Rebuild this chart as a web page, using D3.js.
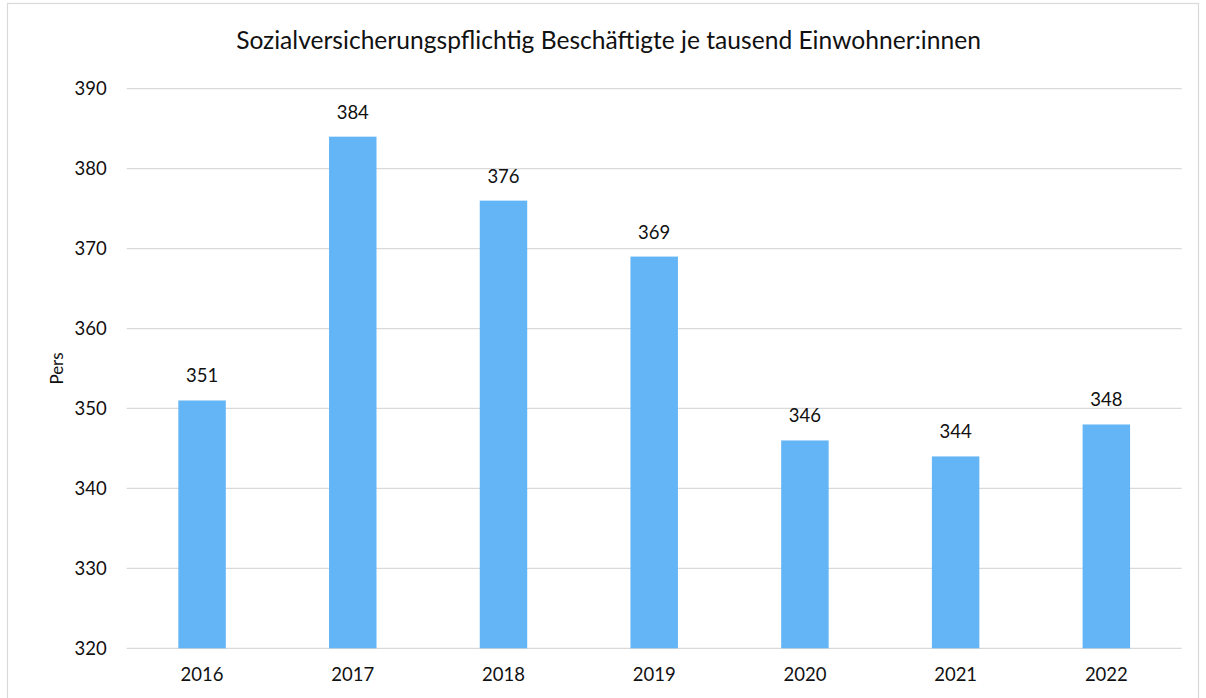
<!DOCTYPE html>
<html>
<head>
<meta charset="utf-8">
<script src="https://cdn.jsdelivr.net/npm/d3@7"></script>
<style>
  html, body { margin: 0; padding: 0; background: #fff; }
  svg { display: block; font-family: Lato, "Open Sans", sans-serif; }
</style>
</head>
<body>
<svg id="chart" width="1206" height="698"></svg>
<script>
// Employees subject to social insurance per 1000 inhabitants
const years = ["2016", "2017", "2018", "2019", "2020", "2021", "2022"];
const values = [351, 384, 376, 369, 346, 344, 348];
const yTicks = [320, 330, 340, 350, 360, 370, 380, 390];
const titleText = "Sozialversicherungspflichtig Beschäftigte je tausend Einwohner:innen";
const yAxisLabel = "Pers";

const svg = d3.select("#chart");
const W = 1206, H = 698;
const margin = { left: 126.7, right: W - 1181.7, top: 88.7, bottom: H - 648.3 };

// Outer frame
svg.append("rect")
  .attr("x", 7.5).attr("y", 3.5)
  .attr("width", 1191).attr("height", 700)
  .attr("fill", "#fff").attr("stroke", "#d9d9d9").attr("stroke-width", 1.2);

const x = d3.scaleBand()
  .domain(years)
  .range([margin.left, W - margin.right])
  .paddingInner(0.685)
  .paddingOuter(0.3425);

const y = d3.scaleLinear()
  .domain([320, 390])
  .range([H - margin.bottom, margin.top]);

// Horizontal gridlines
svg.append("g")
  .selectAll("line")
  .data(yTicks)
  .join("line")
  .attr("x1", margin.left).attr("x2", W - margin.right)
  .attr("y1", d => y(d)).attr("y2", d => y(d))
  .attr("stroke", "#d9d9d9").attr("stroke-width", 1.3);

// Y axis tick labels
const yAxis = d3.axisLeft(y).tickValues(yTicks).tickSize(0).tickPadding(20);
svg.append("g")
  .attr("transform", `translate(${margin.left},0)`)
  .call(yAxis)
  .call(g => g.select(".domain").remove())
  .call(g => g.selectAll("text")
    .attr("font-family", "Lato, 'Open Sans', sans-serif")
    .attr("font-size", 18.5).attr("fill", "#111"));

// X axis labels
const xAxis = d3.axisBottom(x).tickSize(0).tickPadding(20);
svg.append("g")
  .attr("transform", `translate(0,${y(320)})`)
  .call(xAxis)
  .call(g => g.select(".domain").remove())
  .call(g => g.selectAll("text")
    .attr("font-family", "Lato, 'Open Sans', sans-serif")
    .attr("font-size", 18.5).attr("fill", "#111"));

// Bars
svg.append("g")
  .selectAll("rect")
  .data(values)
  .join("rect")
  .attr("x", (d, i) => x(years[i]))
  .attr("width", x.bandwidth())
  .attr("y", d => y(d))
  .attr("height", d => y(320) - y(d))
  .attr("fill", "#64b5f6");

// Value labels
svg.append("g")
  .selectAll("text")
  .data(values)
  .join("text")
  .attr("x", (d, i) => x(years[i]) + x.bandwidth() / 2)
  .attr("y", d => y(d) - 18)
  .attr("text-anchor", "middle")
  .attr("font-size", 18.5).attr("fill", "#111")
  .text(d => d);

// Title
svg.append("text")
  .attr("x", 608.5).attr("y", 49)
  .attr("text-anchor", "middle")
  .attr("font-size", 24.6).attr("fill", "#111")
  .text(titleText);

// Y axis title
svg.append("text")
  .attr("transform", `translate(63,${(y(320) + y(390)) / 2}) rotate(-90)`)
  .attr("text-anchor", "middle")
  .attr("font-size", 17).attr("fill", "#111")
  .text(yAxisLabel);
</script>
</body>
</html>
